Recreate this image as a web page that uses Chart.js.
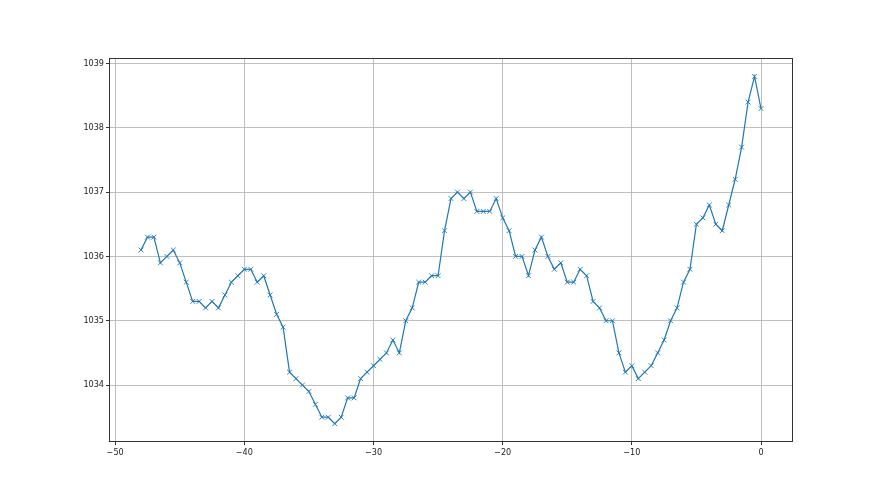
<!DOCTYPE html>
<html>
<head>
<meta charset="utf-8">
<script src="https://cdn.jsdelivr.net/npm/chart.js@4/dist/chart.umd.min.js"></script>
<style>
  html, body { margin: 0; padding: 0; background: #ffffff; }
  #wrap { width: 880px; height: 495px; }
</style>
</head>
<body>
<div id="wrap"><canvas id="c" width="880" height="495"></canvas></div>
<script>
const xValues = [
  -48, -47.5, -47, -46.5, -46, -45.5, -45, -44.5, -44, -43.5,
  -43, -42.5, -42, -41.5, -41, -40.5, -40, -39.5, -39, -38.5,
  -38, -37.5, -37, -36.5, -36, -35.5, -35, -34.5, -34, -33.5,
  -33, -32.5, -32, -31.5, -31, -30.5, -30, -29.5, -29, -28.5,
  -28, -27.5, -27, -26.5, -26, -25.5, -25, -24.5, -24, -23.5,
  -23, -22.5, -22, -21.5, -21, -20.5, -20, -19.5, -19, -18.5,
  -18, -17.5, -17, -16.5, -16, -15.5, -15, -14.5, -14, -13.5,
  -13, -12.5, -12, -11.5, -11, -10.5, -10, -9.5, -9, -8.5,
  -8, -7.5, -7, -6.5, -6, -5.5, -5, -4.5, -4, -3.5,
  -3, -2.5, -2, -1.5, -1, -0.5, 0
];
const yValues = [
  1036.1, 1036.3, 1036.3, 1035.9, 1036.0, 1036.1, 1035.9, 1035.6, 1035.3, 1035.3,
  1035.2, 1035.3, 1035.2, 1035.4, 1035.6, 1035.7, 1035.8, 1035.8, 1035.6, 1035.7,
  1035.4, 1035.1, 1034.9, 1034.2, 1034.1, 1034.0, 1033.9, 1033.7, 1033.5, 1033.5,
  1033.4, 1033.5, 1033.8, 1033.8, 1034.1, 1034.2, 1034.3, 1034.4, 1034.5, 1034.7,
  1034.5, 1035.0, 1035.2, 1035.6, 1035.6, 1035.7, 1035.7, 1036.4, 1036.9, 1037.0,
  1036.9, 1037.0, 1036.7, 1036.7, 1036.7, 1036.9, 1036.6, 1036.4, 1036.0, 1036.0,
  1035.7, 1036.1, 1036.3, 1036.0, 1035.8, 1035.9, 1035.6, 1035.6, 1035.8, 1035.7,
  1035.3, 1035.2, 1035.0, 1035.0, 1034.5, 1034.2, 1034.3, 1034.1, 1034.2, 1034.3,
  1034.5, 1034.7, 1035.0, 1035.2, 1035.6, 1035.8, 1036.5, 1036.6, 1036.8, 1036.5,
  1036.4, 1036.8, 1037.2, 1037.7, 1038.4, 1038.8, 1038.3
];
const xTicks = [-50, -40, -30, -20, -10, 0];
const yTicks = [1034, 1035, 1036, 1037, 1038, 1039];

const points = xValues.map((x, i) => ({ x: x, y: yValues[i] }));

const tickFont = { family: "'DejaVu Sans Condensed', 'Liberation Sans Narrow', 'DejaVu Sans', sans-serif", size: 9 };

const framePlugin = {
  id: 'frame',
  beforeDraw(chart) {
    const ctx = chart.ctx;
    ctx.save();
    ctx.fillStyle = '#ffffff';
    ctx.fillRect(0, 0, chart.width, chart.height);
    ctx.restore();
  },
  afterDatasetsDraw(chart) {
    const a = chart.chartArea;
    const ctx = chart.ctx;
    ctx.save();
    ctx.strokeStyle = '#333333';
    ctx.lineWidth = 1;
    ctx.strokeRect(Math.round(a.left) - 0.5, Math.round(a.top) - 0.5,
                   Math.round(a.right - a.left) + 1, Math.round(a.bottom - a.top) + 1);
    ctx.restore();
  }
};

new Chart(document.getElementById('c'), {
  type: 'line',
  data: {
    datasets: [{
      data: points,
      borderColor: '#1f77b4',
      backgroundColor: '#1f77b4',
      borderWidth: 1.2,
      tension: 0,
      fill: false,
      pointStyle: 'crossRot',
      pointRadius: 3.4,
      pointBorderWidth: 0.9,
      pointBorderColor: '#1f77b4',
      pointHoverRadius: 3.4
    }]
  },
  options: {
    responsive: false,
    animation: false,
    events: [],
    layout: { padding: { top: 59, right: 88, bottom: 0, left: 0 } },
    plugins: { legend: { display: false }, tooltip: { enabled: false } },
    scales: {
      x: {
        type: 'linear',
        min: -50.4,
        max: 2.4,
        afterBuildTicks(s) { s.ticks = xTicks.map(v => ({ value: v })); },
        afterFit(s) { s.height = 54; },
        border: { display: false },
        grid: { color: '#b0b0b0', lineWidth: 0.8, drawTicks: true, tickLength: 4, tickColor: '#333333', tickWidth: 1 },
        ticks: {
          color: '#222222', font: tickFont, padding: 2, maxRotation: 0, autoSkip: false,
          callback: (v) => (v < 0 ? '\u2212' + Math.abs(v) : String(v))
        }
      },
      y: {
        type: 'linear',
        min: 1033.13,
        max: 1039.07,
        afterBuildTicks(s) { s.ticks = yTicks.map(v => ({ value: v })); },
        afterFit(s) { s.width = 110; },
        border: { display: false },
        grid: { color: '#b0b0b0', lineWidth: 0.8, drawTicks: true, tickLength: 4, tickColor: '#333333', tickWidth: 1 },
        ticks: { color: '#222222', font: tickFont, padding: 2, autoSkip: false, callback: (v) => String(v) }
      }
    }
  },
  plugins: [framePlugin]
});
</script>
</body>
</html>
